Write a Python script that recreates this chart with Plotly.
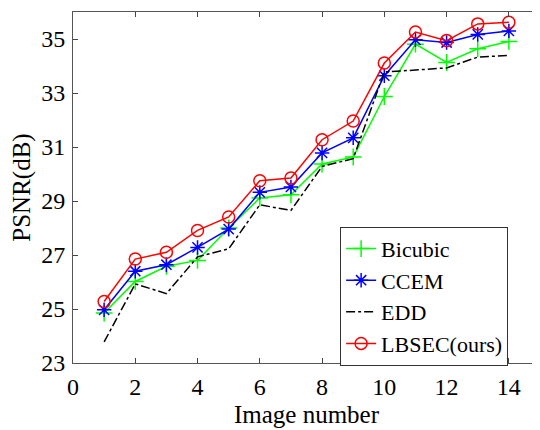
import plotly.graph_objects as go

image_number = list(range(1, 15))
bicubic = [24.85, 26.02, 26.58, 26.80, 28.00, 29.11, 29.23, 30.37, 30.63, 32.87, 34.81, 34.13, 34.64, 34.91]
ccem = [24.97, 26.40, 26.64, 27.28, 27.96, 29.32, 29.52, 30.78, 31.34, 33.64, 34.97, 34.87, 35.17, 35.30]
edd = [23.78, 25.93, 25.57, 26.93, 27.23, 28.86, 28.65, 30.28, 30.57, 33.78, 33.85, 33.93, 34.33, 34.39]
lbsec = [25.28, 26.85, 27.10, 27.91, 28.41, 29.75, 29.85, 31.27, 31.96, 34.11, 35.26, 34.94, 35.56, 35.62]

x_ticks = [0, 2, 4, 6, 8, 10, 12, 14]
y_ticks = [23, 25, 27, 29, 31, 33, 35]

fig = go.Figure()
fig.add_trace(go.Scatter(x=image_number, y=bicubic, name="Bicubic", mode="lines+markers",
                         line=dict(color="#00ff00", width=1.5),
                         marker=dict(symbol="cross-thin-open", size=12, color="#00ff00",
                                     line=dict(color="#00ff00", width=1.5))))
fig.add_trace(go.Scatter(x=image_number, y=ccem, name="CCEM", mode="lines+markers",
                         line=dict(color="#0000ff", width=1.5),
                         marker=dict(symbol="asterisk-open", size=12, color="#0000ff",
                                     line=dict(color="#0000ff", width=1.5))))
fig.add_trace(go.Scatter(x=image_number, y=edd, name="EDD", mode="lines",
                         line=dict(color="black", width=1.5, dash="dashdot")))
fig.add_trace(go.Scatter(x=image_number, y=lbsec, name="LBSEC(ours)", mode="lines+markers",
                         line=dict(color="#ff0000", width=1.5),
                         marker=dict(symbol="circle-open", size=12, color="#ff0000",
                                     line=dict(color="#ff0000", width=1.5))))

font = "Liberation Serif, Times New Roman, serif"
fig.update_layout(
    width=540, height=430,
    margin=dict(l=65, r=8, t=4, b=75),
    paper_bgcolor="white", plot_bgcolor="white",
    font=dict(family=font, size=24, color="black"),
    showlegend=True,
    legend=dict(x=0.572, y=0.388, xanchor="left", yanchor="top",
                bgcolor="white", bordercolor="#333", borderwidth=1,
                font=dict(family=font, size=22), tracegroupgap=0,
                itemwidth=30),
    xaxis=dict(range=[0, 15], tickvals=x_ticks, ticks="inside", ticklen=5,
               showline=True, linecolor="#555", linewidth=1, mirror="ticks",
               showgrid=False, zeroline=False, tickfont=dict(size=24),
               automargin=False, ticklabelstandoff=2,
               title=dict(text="Image number", font=dict(size=25), standoff=6)),
    yaxis=dict(range=[23, 36], tickvals=y_ticks, ticks="inside", ticklen=5,
               showline=True, linecolor="#555", linewidth=1, mirror="ticks",
               showgrid=False, zeroline=False, tickfont=dict(size=24),
               automargin=False, ticklabelstandoff=2,
               title=dict(text="PSNR(dB)", font=dict(size=25), standoff=4)),
)

fig.write_html("out.html")
